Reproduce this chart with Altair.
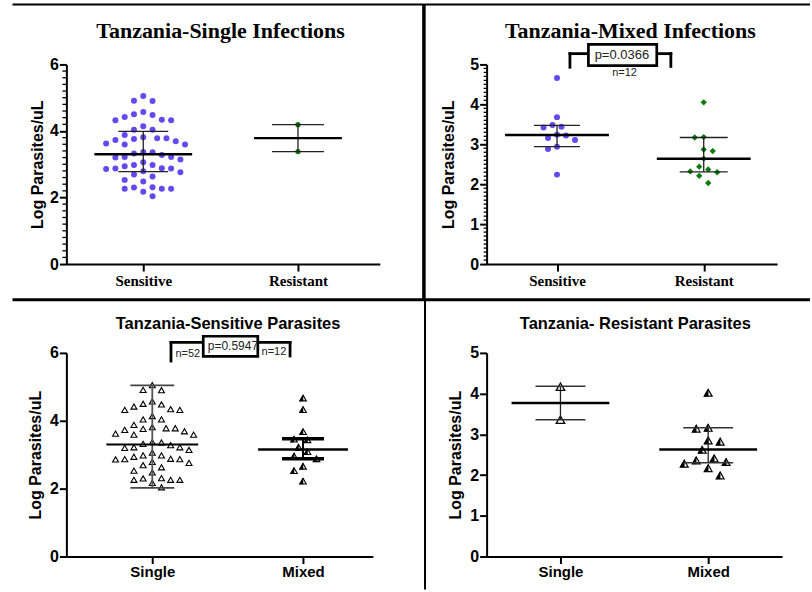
import altair as alt
import pandas as pd

# ---------------- data ----------------
top_categories = ["Sensitive", "Resistant"]
bottom_categories = ["Single", "Mixed"]

single_sensitive = [5.05, 4.90, 4.91, 4.50, 4.42, 4.32, 4.32, 4.34, 4.48, 4.57, 4.14, 4.04, 4.04,
                    3.88, 3.78, 3.76, 3.59, 3.69, 3.62, 3.73, 3.59, 3.78, 3.81,
                    3.28, 3.22, 3.14, 3.36, 3.37, 3.06, 3.20, 3.22, 3.32,
                    2.98, 2.94, 2.87, 2.86, 2.76, 2.79, 2.87, 2.88, 2.98,
                    2.69, 2.53, 2.48, 2.63, 2.30, 2.26, 2.26, 2.17, 2.26, 2.31, 2.04]
single_resistant = [4.19, 3.38]
mixed_sensitive = [4.66, 3.68, 3.48, 3.44, 3.42, 3.24, 3.22, 3.16, 3.11, 2.94, 2.88, 2.24]
mixed_resistant = [4.05, 3.18, 3.17, 2.87, 2.83, 2.64, 2.44, 2.37, 2.32, 2.30, 2.21, 2.03]
mixed_sensitive_b = [4.67, 4.33, 3.68, 3.46, 3.44, 3.22, 3.09, 2.96, 2.88, 2.66, 2.53, 2.22]
single_resistant_b = [4.17, 3.36]
mixed_resistant_b = [4.02, 3.16, 3.14, 2.85, 2.82, 2.62, 2.41, 2.36, 2.32, 2.28, 2.17, 1.99]

# summary lines: median, lower, upper
p1_median, p1_lower, p1_upper = [3.30, 3.785], [2.78, 3.38], [3.99, 4.19]
p2_median, p2_lower, p2_upper = [3.23, 2.635], [2.94, 2.31], [3.475, 3.17]
p3_median, p3_lower, p3_upper = [3.30, 3.15], [2.02, 2.88], [5.04, 3.47]
p4_median, p4_lower, p4_upper = [3.77, 2.63], [3.36, 2.30], [4.18, 3.16]

titles = ["Tanzania-Single Infections", "Tanzania-Mixed Infections",
          "Tanzania-Sensitive Parasites", "Tanzania- Resistant Parasites"]
y_title = "Log Parasites/uL"

BLUE = "#6349F2"
GREEN = "#0B7B0B"
SANS = "Liberation Sans"
SERIF = "Liberation Serif"
HALF_TRI = "M0,-0.866L-1,0.866L0,0.866Z"


def swarm(vals, yppu, step, diam, kmax=20):
    order = sorted(range(len(vals)), key=lambda i: -vals[i])
    placed, offs = [], [0.0] * len(vals)
    nl = nr = 0
    for i in order:
        y = vals[i] * yppu
        chosen = None
        for m in range(kmax + 1):
            cands = [0] if m == 0 else ([-m, m] if nl <= nr else [m, -m])
            for k in cands:
                x = k * step
                if all((x - px) ** 2 + (y - py) ** 2 >= diam ** 2 for px, py in placed):
                    chosen = x
                    break
            if chosen is not None:
                break
        placed.append((chosen, y))
        if chosen < 0:
            nl += 1
        elif chosen > 0:
            nr += 1
        offs[i] = chosen
    return offs


def build_panel(W, H, xdom, ydom, yvals, cats, cat_font, groups, stats, line_style,
                title, title_font, title_size, title_x, title_y, ytitle_x,
                minor_step=None, minor_len=4, bracket=None, extra=None, label_pad=2):
    xppu = W / (xdom[1] - xdom[0])
    yppu = H / (ydom[1] - ydom[0])
    xs = alt.Scale(domain=xdom, nice=False, zero=False)
    ys = alt.Scale(domain=ydom, nice=False)
    xaxis = alt.Axis(values=[0, 1], title=None, grid=False,
                     labelExpr=f"datum.value == 0 ? '{cats[0]}' : '{cats[1]}'",
                     labelFont=cat_font, labelFontSize=15, labelFontWeight="bold", labelColor="black",
                     labelPadding=label_pad, labelAngle=0,
                     tickSize=7, tickWidth=2, tickColor="black", domainWidth=2, domainColor="black")
    yaxis = alt.Axis(values=yvals, format="d", title=y_title, grid=False,
                     labelFont=SANS, labelFontSize=16, labelFontWeight="bold", labelColor="black",
                     labelPadding=1, tickSize=7, tickWidth=2, tickColor="black",
                     domainWidth=2, domainColor="black",
                     titleFont=SANS, titleFontSize=16, titleFontWeight="bold", titleColor="black",
                     titleX=ytitle_x, titleY=H / 2, titleBaseline="middle", titleAngle=270)

    def X(f="x"):
        return alt.X(f"{f}:Q", scale=xs, axis=xaxis)

    def Y(f="y"):
        return alt.Y(f"{f}:Q", scale=ys, axis=yaxis)

    layers = []
    for g, grp in enumerate(groups):
        vals = grp["vals"]
        offs = swarm(vals, yppu, grp["step"], grp["diam"])
        df = pd.DataFrame({"x": [g + o / xppu for o in offs], "y": vals})
        for mk in grp["marks"]:
            layers.append(alt.Chart(df).mark_point(opacity=1, filled=True, **mk).encode(x=X(), y=Y()))
    med, lo, hi = stats
    for g in range(2):
        st = line_style[g]
        mw = st["mw"] / xppu
        cw = st["cw"] / xppu
        dfm = pd.DataFrame({"x": [g - mw], "x2": [g + mw], "y": [med[g]]})
        dfc = pd.DataFrame({"x": [g - cw, g - cw], "x2": [g + cw, g + cw], "y": [lo[g], hi[g]]})
        dfw = pd.DataFrame({"x": [g], "y": [lo[g]], "y2": [hi[g]]})
        layers.append(alt.Chart(dfw).mark_rule(color=st["wc"], strokeWidth=st["ww"]).encode(
            x=X(), y=Y(), y2="y2:Q"))
        layers.append(alt.Chart(dfc).mark_rule(color=st["cc"], strokeWidth=st["csw"]).encode(
            x=X(), x2="x2:Q", y=Y()))
        layers.append(alt.Chart(dfm).mark_rule(color="black", strokeWidth=st["msw"]).encode(
            x=X(), x2="x2:Q", y=Y()))
    if minor_step:
        n = int(round((ydom[1] - ydom[0]) / minor_step))
        mv = [round(ydom[0] + i * minor_step, 3) for i in range(n + 1)]
        mv = [v for v in mv if not (abs(v - round(v)) < 1e-6 and round(v) in yvals)]
        dft = pd.DataFrame({"y": mv})
        layers.append(alt.Chart(dft).mark_rule(color="black", strokeWidth=1.3).encode(
            x=alt.value(-minor_len), x2=alt.value(0), y=Y()))
    if bracket:
        segs = pd.DataFrame(bracket["segs"], columns=["x", "x2", "y", "y2"])
        layers.append(alt.Chart(segs).mark_rule(color="black", strokeWidth=2.8, strokeCap="square").encode(
            x=X(), x2="x2:Q", y=Y(), y2="y2:Q"))
        bx = pd.DataFrame([bracket["box"]], columns=["x", "x2", "y", "y2"])
        layers.append(alt.Chart(bx).mark_rect(fill="white", stroke="black", strokeWidth=2.7).encode(
            x=X(), x2="x2:Q", y=Y(), y2="y2:Q"))
        for (tx, ty, txt, fs) in bracket["texts"]:
            dtx = pd.DataFrame({"x": [tx], "y": [ty], "t": [txt]})
            layers.append(alt.Chart(dtx).mark_text(font=SANS, fontSize=fs, color="#222",
                                                   baseline="middle", align="center").encode(
                x=X(), y=Y(), text="t:N"))
    dtt = pd.DataFrame({"t": [title]})
    layers.append(alt.Chart(dtt).mark_text(font=title_font, fontSize=title_size, fontWeight="bold",
                                           color="black", align="center", baseline="alphabetic").encode(
        x=alt.value(title_x), y=alt.value(title_y), text="t:N"))
    for (lx, lx2, ly, ly2, sw) in (extra or []):
        dl = pd.DataFrame({"a": [0]})
        layers.append(alt.Chart(dl).mark_rule(color="black", strokeWidth=sw).encode(
            x=alt.value(lx), x2=alt.value(lx2), y=alt.value(ly), y2=alt.value(ly2)))
    return alt.layer(*layers).properties(width=W, height=H)


def std_style(mw, cw, msw=2.5, csw=1.3, cc="#222", ww=1.3, wc="#222"):
    return {"mw": mw, "cw": cw, "msw": msw, "csw": csw, "cc": cc, "ww": ww, "wc": wc}


p1 = build_panel(
    314, 200, [-0.497, 1.529], [0, 6], [0, 2, 4, 6], top_categories, SERIF,
    [{"vals": single_sensitive, "step": 4.65, "diam": 9,
      "marks": [dict(shape="circle", size=36, color=BLUE)]},
     {"vals": single_resistant, "step": 4.65, "diam": 9,
      "marks": [dict(shape="circle", size=28, color=GREEN)]}],
    (p1_median, p1_lower, p1_upper),
    [std_style(49, 25), std_style(44, 26)],
    titles[0], SERIF, 22, 154.5, -26, -29, minor_step=0.2, minor_len=4,
    extra=[(-54, 745, -60, -60, 2), (-54, 745, 235.8, 235.8, 3), (358.2, 358.2, -60, 236, 3.5)])

p2 = build_panel(
    291, 200, [-0.48, 1.5], [0, 5], [0, 1, 2, 3, 4, 5], top_categories, SERIF,
    [{"vals": mixed_sensitive, "step": 4.5, "diam": 9,
      "marks": [dict(shape="circle", size=36, color=BLUE)]},
     {"vals": mixed_resistant, "step": 4.5, "diam": 9,
      "marks": [dict(shape="diamond", size=40, color=GREEN)]}],
    (p2_median, p2_lower, p2_upper),
    [std_style(52, 23), std_style(47, 24)],
    titles[1], SERIF, 22, 144, -26, -38, minor_step=0.1, minor_len=3,
    bracket={"segs": [[0.088, 0.088, 5.27, 4.93], [0.088, 0.204, 5.27, 5.27],
                      [0.68, 0.776, 5.27, 5.27], [0.776, 0.776, 5.27, 4.95]],
             "box": [0.214, 0.680, 5.50, 4.97],
             "texts": [(0.442, 5.24, "p=0.0366", 13), (0.46, 4.78, "n=12", 11)]})

p3 = build_panel(
    307, 204, [-0.57, 1.463], [0, 6], [0, 2, 4, 6], bottom_categories, SANS,
    [{"vals": single_sensitive, "step": 4.6, "diam": 9,
      "marks": [dict(shape="triangle-up", size=36, fill="white", stroke="black", strokeWidth=1.1)]},
     {"vals": mixed_sensitive_b, "step": 4.5, "diam": 9,
      "marks": [dict(shape="triangle-up", size=44, fill="white", stroke="black", strokeWidth=1.1),
                dict(shape=HALF_TRI, size=44, fill="black", stroke="black", strokeWidth=0.5)]}],
    (p3_median, p3_lower, p3_upper),
    [std_style(46, 22, msw=2, csw=1.8, cc="#444", ww=1.8, wc="#555"),
     std_style(45, 21, msw=2.5, csw=3.5, cc="black", ww=2, wc="black")],
    titles[2], SANS, 16.5, 162, -24, -30.5, label_pad=1,
    bracket={"segs": [[0.124, 0.124, 6.31, 5.76], [0.124, 0.329, 6.31, 6.31],
                      [0.709, 0.914, 6.31, 6.31], [0.914, 0.914, 6.31, 5.91]],
             "box": [0.338, 0.70, 6.49, 5.90],
             "texts": [(0.535, 6.21, "p=0.5947", 12), (0.236, 5.98, "n=52", 11),
                       (0.807, 6.04, "n=12", 11)]},
    extra=[(359.3, 359.3, -53, 237, 2)])

p4 = build_panel(
    296, 204, [-0.5, 1.5], [0, 5], [0, 1, 2, 3, 4, 5], bottom_categories, SANS,
    [{"vals": single_resistant_b, "step": 6, "diam": 11,
      "marks": [dict(shape="triangle-up", size=72, fill="white", stroke="black", strokeWidth=1.3)]},
     {"vals": mixed_resistant_b, "step": 6, "diam": 11,
      "marks": [dict(shape="triangle-up", size=62, fill="white", stroke="black", strokeWidth=1.2),
                dict(shape=HALF_TRI, size=62, fill="black", stroke="black", strokeWidth=0.5)]}],
    (p4_median, p4_lower, p4_upper),
    [std_style(49, 25, csw=1.5, cc="#333"), std_style(49, 25, csw=1.5, cc="#333")],
    titles[3], SANS, 16.5, 149, -24, -31, label_pad=1)

chart = alt.concat(p1, p2, p3, p4, columns=2, align="none", bounds="flush",
                   spacing={"row": 89, "column": 107}).properties(
    padding={"left": 10.5, "top": 2, "right": 0, "bottom": 0},
    background="white",
).configure_view(stroke=None)

chart.save("out.html", embed_options={"renderer": "svg", "actions": False})
